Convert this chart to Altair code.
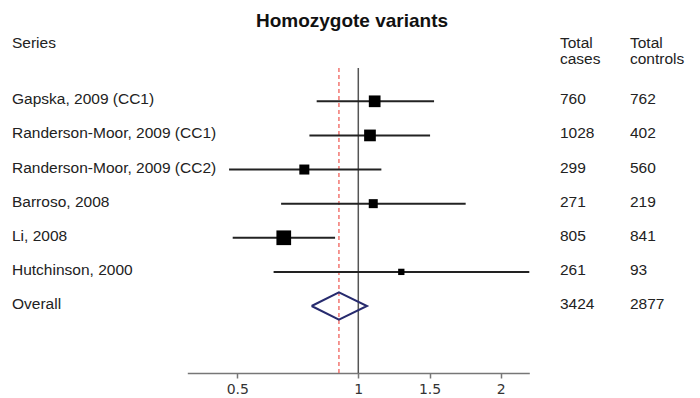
import altair as alt
import pandas as pd

# ---- data ----
studies = ["Gapska, 2009 (CC1)", "Randerson-Moor, 2009 (CC1)", "Randerson-Moor, 2009 (CC2)",
           "Barroso, 2008", "Li, 2008", "Hutchinson, 2000"]
estimate = [1.115, 1.082, 0.777, 1.105, 0.692, 1.302]
ci_low = [0.828, 0.798, 0.466, 0.681, 0.481, 0.650]
ci_high = [1.532, 1.504, 1.162, 1.754, 0.904, 2.20]
weight = [19.3, 19.3, 14.1, 11.4, 30.4, 5.6]
cases = [760, 1028, 299, 271, 805, 261]
controls = [762, 402, 560, 219, 841, 93]

overall_label = "Overall"
overall_est = 0.920
overall_low = 0.807
overall_high = 1.061
overall_cases = 3424
overall_controls = 2877

ticks = [0.5, 1, 1.5, 2]

FONT = "Liberation Sans"
FS = 15.5
n = len(studies)

df = pd.DataFrame({
    "study": studies, "row": list(range(1, n + 1)), "est": estimate,
    "lo": ci_low, "hi": ci_high, "weight": weight,
})
labels = pd.DataFrame({
    "study": studies + [overall_label],
    "row": list(range(1, n + 2)),
    "cases": [str(c) for c in cases] + [str(overall_cases)],
    "controls": [str(c) for c in controls] + [str(overall_controls)],
})
orow = n + 1
half = 0.4
diamond = pd.DataFrame({
    "i": [0, 1, 2, 3, 4],
    "x": [overall_low, overall_est, overall_high, overall_est, overall_low],
    "row": [orow, orow - half, orow, orow + half, orow],
})

xscale = alt.Scale(type="linear", domain=[0.2934, 0.5, 1, 2, 2.2],
                   range=[187.3, 237.3, 358.3, 500.7, 529.3], zero=False, nice=False)
yscale = alt.Scale(domain=[1, n + 1], range=[101.3, 306], zero=False, nice=False)
xaxis = alt.Axis(
    values=ticks, format="~g", title=None, grid=False,
    domainColor="#777", domainWidth=1.5, tickColor="#777", tickWidth=1.5,
    tickSize=5, labelFontSize=14, labelFont="DejaVu Sans", labelColor="#333",
    labelPadding=4)

X = lambda f: alt.X(f, scale=xscale, axis=xaxis)
Y = lambda f: alt.Y(f, scale=yscale, axis=None)

ref = pd.DataFrame({"v": [1.0], "ov": [overall_est]})

null_line = alt.Chart(ref).mark_rule(color="#555", strokeWidth=1.5).encode(
    x=X("v:Q"), y=alt.value(68), y2=alt.value(373))
overall_line = alt.Chart(ref).mark_rule(color="#f0605a", strokeWidth=1.3,
                                        strokeDash=[4, 3]).encode(
    x=X("ov:Q"), y=alt.value(68), y2=alt.value(373))

ci = alt.Chart(df).mark_rule(color="#222", strokeWidth=2).encode(
    x=X("lo:Q"), x2="hi:Q", y=Y("row:Q"))
squares = alt.Chart(df).mark_square(color="#000", opacity=1, filled=True).encode(
    x=X("est:Q"), y=Y("row:Q"),
    size=alt.Size("weight:Q", scale=alt.Scale(type="linear", domain=[0, 30.4], range=[0, 216]),
                  legend=None))
dia = alt.Chart(diamond).mark_line(color="#272b6e", strokeWidth=2, strokeJoin="miter").encode(
    x=X("x:Q"), y=Y("row:Q"), order="i:Q")

txt = dict(font=FONT, fontSize=FS, color="#222", align="left", baseline="middle", dy=-2)
names = alt.Chart(labels).mark_text(**txt).encode(x=alt.value(12), y=Y("row:Q"), text="study:N")
c_cases = alt.Chart(labels).mark_text(**txt).encode(x=alt.value(560), y=Y("row:Q"), text="cases:N")
c_ctrl = alt.Chart(labels).mark_text(**txt).encode(x=alt.value(630), y=Y("row:Q"), text="controls:N")

hdr = pd.DataFrame({"t": ["Series"]})
h_series = alt.Chart(hdr).mark_text(**txt).encode(x=alt.value(12), y=alt.value(45), text="t:N")
hd = dict(font=FONT, fontSize=FS, color="#222", align="left", baseline="middle",
          lineBreak="\n", lineHeight=15.5)
h_cases = alt.Chart(pd.DataFrame({"t": ["Total\ncases"]})).mark_text(**hd).encode(
    x=alt.value(560), y=alt.value(43), text="t:N")
h_ctrl = alt.Chart(pd.DataFrame({"t": ["Total\ncontrols"]})).mark_text(**hd).encode(
    x=alt.value(630), y=alt.value(43), text="t:N")
title = alt.Chart(pd.DataFrame({"t": ["Homozygote variants"]})).mark_text(
    font=FONT, fontSize=19, fontWeight="bold", color="#111", align="center",
    baseline="middle").encode(x=alt.value(352), y=alt.value(21), text="t:N")

chart = alt.layer(null_line, overall_line, ci, squares, dia,
                  names, c_cases, c_ctrl, h_series, h_cases, h_ctrl, title).properties(
    width=700, height=373,
    autosize=alt.AutoSizeParams(type="none"),
    padding={"left": 0, "top": 0, "right": 0, "bottom": 25},
    background="white",
).configure_view(stroke=None)

chart.save("out.html", embed_options={"renderer": "svg", "actions": False})
